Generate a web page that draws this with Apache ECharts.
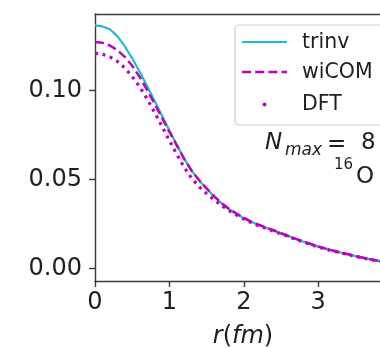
<!DOCTYPE html>
<html><head><meta charset="utf-8">
<script src="https://cdn.jsdelivr.net/npm/echarts@6/dist/echarts.min.js"></script>
<style>html,body{margin:0;padding:0;background:#fff}#c{width:380px;height:348px}</style>
</head><body><div id="c"></div>
<script>
const r = [0.0,0.1,0.2,0.3,0.4,0.5,0.6,0.7,0.8,0.9,1.0,1.1,1.2,1.3,1.4,1.5,1.6,1.7,1.8,1.9,
           2.0,2.1,2.2,2.3,2.4,2.5,2.6,2.7,2.8,2.9,3.0,3.1,3.2,3.3,3.4,3.5,3.6,3.7,3.8,3.9];
const trinv = [0.1365,0.1359,0.1343,0.1305,0.1248,0.1180,0.1105,0.1025,0.0942,0.0858,
               0.0775,0.0694,0.0616,0.0548,0.0494,0.0447,0.0404,0.0365,0.0333,0.0306,
               0.0282,0.0262,0.0244,0.0228,0.0213,0.0196,0.0181,0.0165,0.0150,0.0136,
               0.0122,0.0110,0.0099,0.0089,0.0079,0.0069,0.0060,0.0051,0.0043,0.0036];
const wiCOM = [0.1272,0.1267,0.1252,0.1226,0.1188,0.1138,0.1076,0.1003,0.0925,0.0846,
               0.0767,0.0690,0.0614,0.0548,0.0495,0.0449,0.0406,0.0367,0.0335,0.0308,
               0.0284,0.0263,0.0245,0.0229,0.0214,0.0197,0.0182,0.0166,0.0151,0.0137,
               0.0123,0.0111,0.0100,0.0089,0.0079,0.0069,0.0060,0.0051,0.0043,0.0036];
const DFT = [0.1208,0.1203,0.1188,0.1163,0.1126,0.1078,0.1020,0.0952,0.0877,0.0798,
             0.0718,0.0640,0.0567,0.0505,0.0458,0.0420,0.0385,0.0353,0.0325,0.0300,
             0.0277,0.0257,0.0239,0.0224,0.0209,0.0193,0.0179,0.0163,0.0148,0.0134,
             0.0120,0.0108,0.0097,0.0087,0.0077,0.0067,0.0058,0.0049,0.0041,0.0034];
const xTicks = [0, 1, 2, 3];
const yTicks = [0, 0.05, 0.10];
const names = ['trinv', 'wiCOM', 'DFT'];

const CYAN = '#1cc0c6', MAG = '#bf00bf', AX = '#3a3a3a', TXT = '#1f1f1f';
const FONT = '"DejaVu Sans", sans-serif';
const pairs = a => r.map((x, i) => [x, a[i]]);
const axLine = {show: true, onZero: false, lineStyle: {color: AX, width: 1.4}};

const chart = echarts.init(document.getElementById('c'), null, {renderer: 'canvas'});
chart.setOption({
  animation: false,
  backgroundColor: '#fff',
  grid: {left: 95, top: 14, right: 0, bottom: 67, outerBoundsMode: 'none'},
  xAxis: [{
    type: 'value', min: 0, max: 3.83, position: 'bottom',
    axisLine: axLine,
    axisTick: {show: true, length: 6, customValues: xTicks, lineStyle: {color: AX, width: 1.4}},
    axisLabel: {customValues: xTicks, fontSize: 24, fontFamily: FONT, color: TXT, margin: 10},
    splitLine: {show: false}
  }, {
    type: 'value', min: 0, max: 3.83, position: 'top',
    axisLine: axLine, axisTick: {show: false}, axisLabel: {show: false}, splitLine: {show: false}
  }],
  yAxis: {
    type: 'value', min: -0.0071, max: 0.1429,
    axisLine: axLine,
    axisTick: {show: true, length: 6, customValues: yTicks, lineStyle: {color: AX, width: 1.4}},
    axisLabel: {customValues: yTicks, formatter: v => v.toFixed(2), fontSize: 24, fontFamily: FONT, color: TXT, margin: 13},
    splitLine: {show: false}
  },
  series: [
    {name: names[0], type: 'line', data: pairs(trinv), showSymbol: false, z: 2,
     lineStyle: {color: CYAN, width: 2.2}},
    {name: names[1], type: 'line', data: pairs(wiCOM), showSymbol: false, z: 3,
     lineStyle: {color: MAG, width: 2.5, type: [9, 4.2]}},
    {name: names[2], type: 'line', data: pairs(DFT), showSymbol: false, z: 4,
     lineStyle: {color: MAG, width: 3.2, type: [3, 4.6]}}
  ],
  graphic: [
    {type: 'text', x: 80, y: -6, style: {text: '0.15', font: '24px ' + FONT, fill: TXT, align: 'right', verticalAlign: 'middle'}},
    {type: 'rect', shape: {x: 235, y: 25, width: 160, height: 100, r: 4}, style: {fill: 'rgba(255,255,255,0.8)', stroke: '#cccccc', lineWidth: 1.2}, z: 10},
    {type: 'line', shape: {x1: 242, y1: 42, x2: 287, y2: 42}, style: {stroke: CYAN, lineWidth: 2.2}, z: 11},
    {type: 'line', shape: {x1: 242, y1: 72, x2: 287, y2: 72}, style: {stroke: MAG, lineWidth: 2.5, lineDash: [9, 4.2]}, z: 11},
    {type: 'circle', shape: {cx: 264.5, cy: 104.5, r: 2}, style: {fill: MAG}, z: 11},
    {type: 'text', x: 302, y: 43, style: {text: names[0], font: '20.5px ' + FONT, fill: TXT, verticalAlign: 'middle'}, z: 11},
    {type: 'text', x: 302, y: 73, style: {text: names[1], font: '20.5px ' + FONT, fill: TXT, verticalAlign: 'middle'}, z: 11},
    {type: 'text', x: 302, y: 105, style: {text: names[2], font: '20.5px ' + FONT, fill: TXT, verticalAlign: 'middle'}, z: 11},
    {type: 'text', x: 265, y: 143, style: {text: 'N', font: 'italic 23px ' + FONT, fill: TXT, verticalAlign: 'middle'}},
    {type: 'text', x: 285, y: 151, style: {text: 'max', font: 'italic 17px ' + FONT, fill: TXT, verticalAlign: 'middle'}},
    {type: 'text', x: 327, y: 145, style: {text: '=', font: '23px ' + FONT, fill: TXT, verticalAlign: 'middle'}},
    {type: 'text', x: 361, y: 143, style: {text: '8', font: '23px ' + FONT, fill: TXT, verticalAlign: 'middle'}},
    {type: 'text', x: 334, y: 165, style: {text: '16', font: '15px ' + FONT, fill: TXT, verticalAlign: 'middle'}},
    {type: 'text', x: 356, y: 177, style: {text: 'O', font: '23px ' + FONT, fill: TXT, verticalAlign: 'middle'}},
    {type: 'text', x: 243, y: 337, style: {
      text: '{i|r}{u|(}{i|fm}{u|)}', align: 'center', verticalAlign: 'middle',
      rich: {i: {fontStyle: 'italic', fontSize: 24, fontFamily: FONT, fill: TXT},
             u: {fontSize: 24, fontFamily: FONT, fill: TXT}}}}
  ]
});
</script>
</body></html>
